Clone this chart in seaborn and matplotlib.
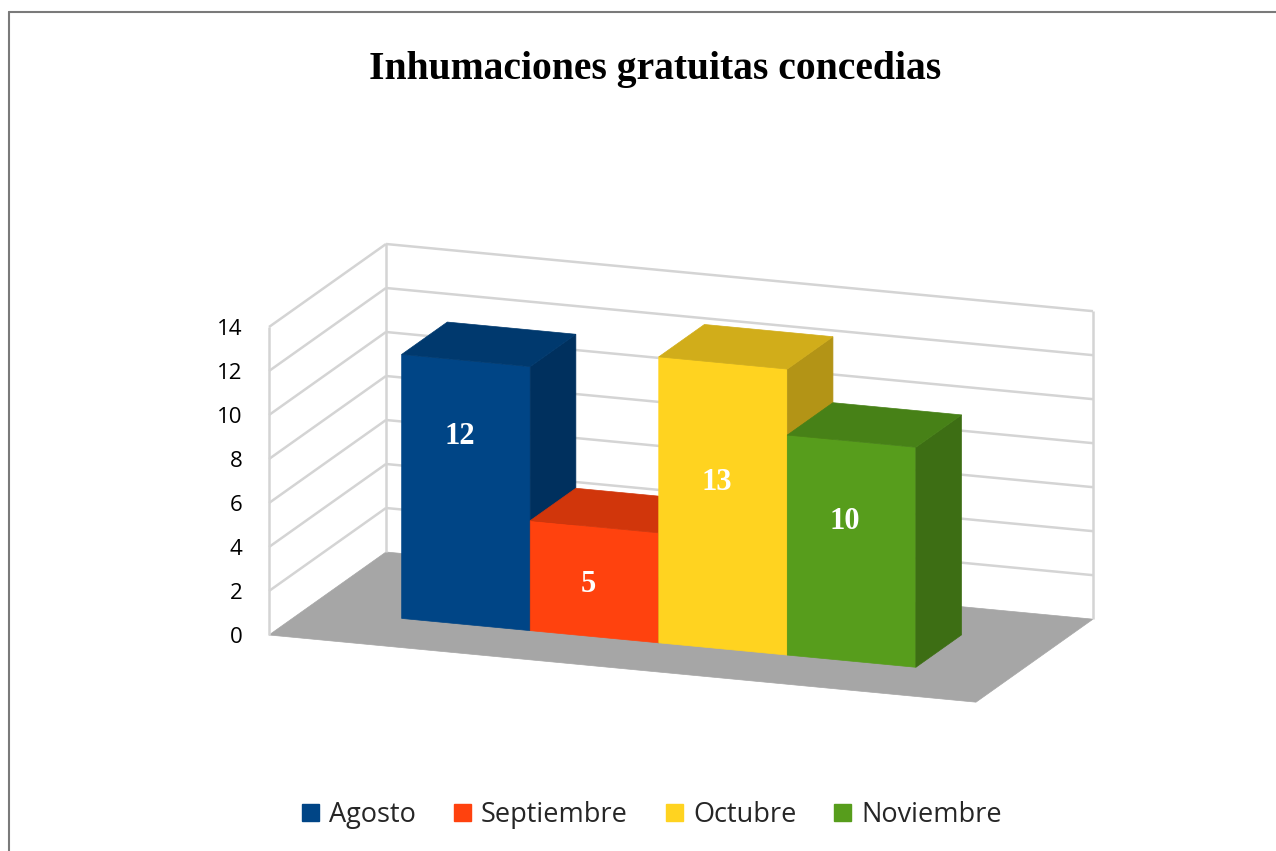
import numpy as np
import matplotlib
matplotlib.use("Agg")
import matplotlib.pyplot as plt
import seaborn as sns
import pandas as pd
from matplotlib.transforms import Affine2D, IdentityTransform
from matplotlib.patches import Polygon, Patch
from matplotlib.lines import Line2D
from matplotlib.colors import to_rgb

# ---- data ----
months = ["Agosto", "Septiembre", "Octubre", "Noviembre"]
counts = [12, 5, 13, 10]
colors = ["#004586", "#ff420e", "#ffd320", "#579d1c"]
y_ticks = [0, 2, 4, 6, 8, 10, 12, 14]
title = "Inhumaciones gratuitas concedias"

# ---- layout / style ----
label_frac = [0.71, 0.47, 0.58, 0.63]   # height of the value label on each front face
W, H = 1276, 851
AX_LEFT, AX_BASE, AX_W, AX_H = 269, 635, 707, 308   # front plane of the box, in pixels
SLOPE = 0.095            # downward tilt of the front plane
DX, DY = 117, 83         # full box depth, in pixels
D0, D1 = 0.31, 0.70      # depth range occupied by the bars
GRID = "#d4d4d4"
FLOOR = "#a6a6a6"

sns.set_theme(style="white")
plt.rcParams["font.family"] = ["Open Sans", "DejaVu Sans"]

fig = plt.figure(figsize=(W / 100, H / 100), dpi=100)
fig.patch.set_facecolor("white")
ax = fig.add_axes([AX_LEFT / W, (H - AX_BASE) / H, AX_W / W, AX_H / H])
ax.set_facecolor("none")

df = pd.DataFrame({"mes": months, "n": counts})
sns.barplot(data=df, x="mes", y="n", hue="mes", palette=colors, width=1.0,
            saturation=1, legend=False, ax=ax)

ax.set_xlim(-1.25, 4.25)
ax.set_ylim(0, 14)
ax.set_yticks(y_ticks)
ax.tick_params(axis="y", length=0, pad=19, labelsize=16, labelcolor="black")
ax.xaxis.set_visible(False)
ax.set_ylabel("")
for s in ax.spines.values():
    s.set_visible(False)

skew = Affine2D().translate(-AX_LEFT, 0).skew(0, np.arctan(-SLOPE)).translate(AX_LEFT, 0)


def depth(d):
    return Affine2D().translate(d * DX, d * DY)


def proj(x, v, d):
    p = ax.transData.transform((x, v))
    p = skew.transform(p)
    return (p[0] + d * DX, p[1] + d * DY)


def shade(c, f):
    r, g, b = to_rgb(c)
    return (r * f, g * f, b * f)


x_lo, x_hi = ax.get_xlim()
v_top = y_ticks[-1]

# floor
floor = Polygon([proj(x_lo, 0, 0), proj(x_hi, 0, 0), proj(x_hi, 0, 1), proj(x_lo, 0, 1)],
                closed=True, transform=IdentityTransform(), facecolor=FLOOR,
                edgecolor=FLOOR, lw=0.5, clip_on=False, zorder=0.5)
ax.add_patch(floor)

# walls: grid lines on the side and back walls, plus the wall edges
def seg(p, q, z=0.6):
    ax.add_line(Line2D([p[0], q[0]], [p[1], q[1]], transform=IdentityTransform(),
                       color=GRID, lw=1.8, clip_on=False, zorder=z,
                       solid_capstyle="butt"))


for v in y_ticks:
    if v > 0:
        seg(proj(x_lo, v, 0), proj(x_lo, v, 1))
        seg(proj(x_lo, v, 1), proj(x_hi, v, 1))
seg(proj(x_lo, 0, 0), proj(x_lo, v_top, 0))
seg(proj(x_lo, 0, 1), proj(x_lo, v_top, 1))
seg(proj(x_hi, 0, 1), proj(x_hi, v_top, 1))

# bars: front face from seaborn, side and top faces added behind it
for i, p in enumerate(ax.patches[:len(months)]):
    x0 = p.get_x()
    x1 = x0 + p.get_width()
    v = p.get_height()
    base = colors[i]
    z = 2 + i
    p.set_transform(ax.transData + skew + depth(D0))
    p.set_clip_on(False)
    p.set_edgecolor(base)
    p.set_linewidth(0.5)
    p.set_zorder(z)

    side = [proj(x1, 0, D0), proj(x1, v, D0), proj(x1, v, D1), proj(x1, 0, D1)]
    top = [proj(x0, v, D0), proj(x1, v, D0), proj(x1, v, D1), proj(x0, v, D1)]
    sc = shade(base, 0.70)
    tc = shade(base, 0.82)
    ax.add_patch(Polygon(side, closed=True, transform=IdentityTransform(),
                         facecolor=sc, edgecolor=sc, lw=0.5, clip_on=False,
                         zorder=z + 0.1))
    ax.add_patch(Polygon(top, closed=True, transform=IdentityTransform(),
                         facecolor=tc, edgecolor=tc, lw=0.5, clip_on=False,
                         zorder=z + 0.2))

    lx, ly = proj(x0 + 0.45 * (x1 - x0), v * label_frac[i], D0)
    ax.text(lx, ly, f"{counts[i]}", transform=IdentityTransform(), ha="center",
            va="center", color="white", fontsize=22, fontweight="bold",
            family="Liberation Serif", zorder=20)

# title
fig.text(655 / W, 1 - 70 / H, title, ha="center", va="center", fontsize=28.5,
         fontweight="bold", family="Liberation Serif", color="black")

# legend
handles = [Patch(facecolor=c, edgecolor=c) for c in colors]
fig.legend(handles, months, loc="center", bbox_to_anchor=(652 / W, 1 - 815 / H),
           ncol=4, frameon=False, fontsize=19.5, handlelength=0.62,
           handleheight=0.62, handletextpad=0.38, columnspacing=1.4)

# chart border
fig.add_artist(Line2D([8.5 / W, 8.5 / W], [0, 1 - 12 / H], transform=fig.transFigure,
                      color="#7a7a7a", lw=1.5))
fig.add_artist(Line2D([8.5 / W, 1], [1 - 12 / H, 1 - 12 / H], transform=fig.transFigure,
                      color="#7a7a7a", lw=1.5))

fig.savefig("out.png", dpi=100, facecolor="white")
